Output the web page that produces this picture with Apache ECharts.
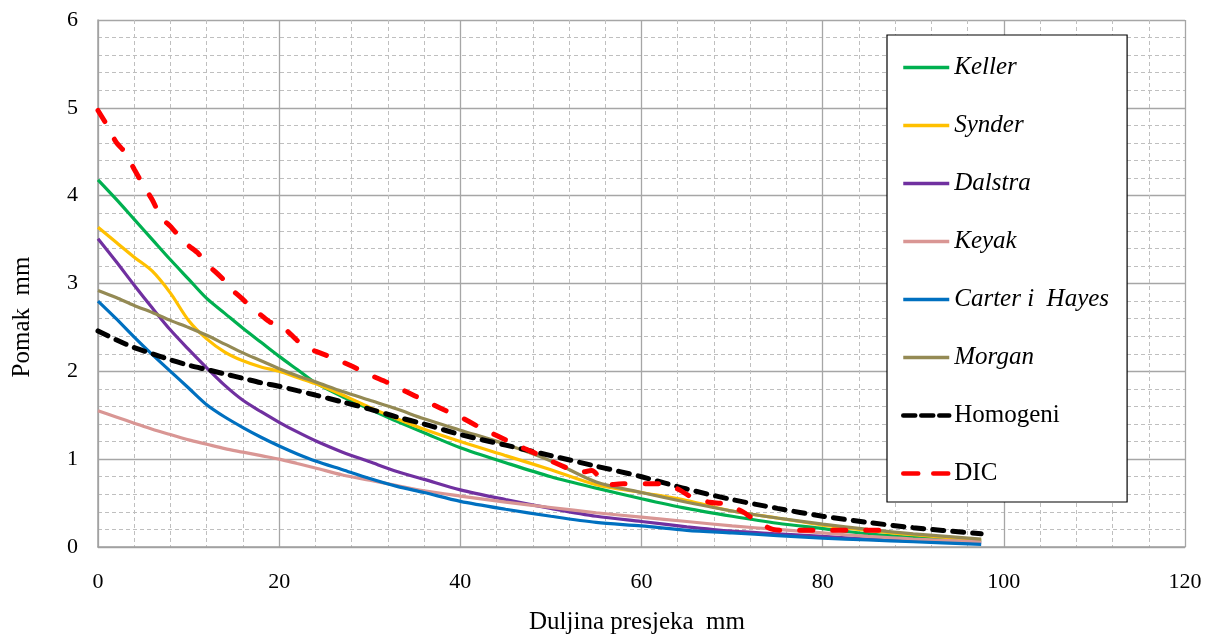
<!DOCTYPE html>
<html>
<head>
<meta charset="utf-8">
<script src="https://cdn.jsdelivr.net/npm/echarts@6/dist/echarts.min.js"></script>
<style>
html,body{margin:0;padding:0;background:#fff;}
#c{width:1207px;height:637px;}
</style>
</head>
<body>
<div id="c"></div>
<script>
const xTicks = [0, 20, 40, 60, 80, 100, 120];
const yTicks = [0, 1, 2, 3, 4, 5, 6];

const xModel = [0,2,4,6,8,10,12,14,16,18,20,22,24,27,30,33,36,40,45,50,55,60,65,70,75,80,85,90,97.5];
const keller   = [4.18,3.96,3.73,3.50,3.27,3.05,2.83,2.66,2.49,2.33,2.17,2.02,1.87,1.71,1.57,1.43,1.30,1.13,0.96,0.80,0.67,0.55,0.44,0.35,0.27,0.21,0.15,0.11,0.07];
const synder   = [3.64,3.47,3.30,3.14,2.89,2.58,2.37,2.22,2.12,2.05,2.00,1.93,1.86,1.73,1.59,1.46,1.34,1.20,1.04,0.88,0.71,0.62,0.53,0.41,0.33,0.25,0.19,0.14,0.08];
const dalstra  = [3.51,3.25,2.98,2.72,2.47,2.25,2.04,1.84,1.67,1.54,1.42,1.31,1.21,1.08,0.97,0.86,0.77,0.65,0.54,0.44,0.35,0.29,0.23,0.18,0.15,0.12,0.09,0.07,0.05];
const keyak    = [1.55,1.48,1.41,1.34,1.28,1.22,1.17,1.12,1.08,1.04,1.00,0.95,0.90,0.82,0.76,0.70,0.64,0.58,0.51,0.45,0.39,0.34,0.29,0.24,0.20,0.16,0.12,0.09,0.06];
const carter   = [2.80,2.60,2.39,2.19,2.00,1.81,1.62,1.48,1.36,1.25,1.15,1.06,0.98,0.88,0.78,0.69,0.62,0.52,0.43,0.35,0.28,0.24,0.19,0.16,0.13,0.10,0.08,0.06,0.03];
const morgan   = [2.92,2.84,2.75,2.67,2.58,2.50,2.41,2.31,2.21,2.12,2.03,1.95,1.88,1.77,1.67,1.57,1.46,1.33,1.17,0.98,0.74,0.62,0.51,0.41,0.33,0.26,0.20,0.15,0.09];
const homogeni = [2.46,2.36,2.27,2.20,2.13,2.07,2.02,1.97,1.92,1.87,1.83,1.78,1.73,1.65,1.57,1.48,1.40,1.28,1.16,1.04,0.92,0.80,0.66,0.54,0.44,0.35,0.28,0.22,0.15];

const xDIC = [0,1,2,3,4,5,6,7,8,9,10,11,12,13,14,15,16,17,18,19,20,21,22,23,24,26,28,30,32,34,36,38,40,42,44,46,48,50,52,53.2,54.5,55.5,56.5,58,62,64,65.5,67.5,69.2,71.2,72.6,74.5,76,80,84,87];
const yDIC = [4.97,4.80,4.61,4.49,4.30,4.12,3.95,3.75,3.65,3.53,3.43,3.35,3.22,3.13,3.03,2.91,2.82,2.72,2.64,2.56,2.54,2.45,2.35,2.27,2.23,2.15,2.06,1.96,1.87,1.77,1.67,1.57,1.48,1.37,1.27,1.17,1.08,0.98,0.89,0.85,0.87,0.78,0.71,0.72,0.72,0.66,0.57,0.51,0.49,0.40,0.30,0.20,0.19,0.19,0.19,0.19];

const names = ['Keller','Synder','Dalstra','Keyak','Carter i  Hayes','Morgan','Homogeni','DIC'];
const italicNames = ['Keller','Synder','Dalstra','Keyak','Carter i  Hayes','Morgan'];

const FONT = '"Liberation Serif", "Times New Roman", serif';

function pairs(xs, ys){ return xs.map((x,i)=>[x, ys[i]]); }

function solid(name, ys, color){
  return {
    name, type:'line', data: pairs(xModel, ys), symbol:'none', showSymbol:false,
    smooth:0.3,
    lineStyle:{color, width:3.2}, itemStyle:{color}
  };
}

const series = [
  solid('Keller', keller, '#00B050'),
  solid('Synder', synder, '#FFC000'),
  solid('Dalstra', dalstra, '#7030A0'),
  solid('Keyak', keyak, '#D99694'),
  solid('Carter i  Hayes', carter, '#0070C0'),
  solid('Morgan', morgan, '#948A54'),
  {
    name:'Homogeni', type:'line', data: pairs(xModel, homogeni), symbol:'none', showSymbol:false,
    smooth:0.3,
    lineStyle:{color:'#000', width:5, type:[11,9], cap:'round'}, itemStyle:{color:'#000'}
  },
  {
    name:'DIC', type:'line', data: pairs(xDIC, yDIC), symbol:'none', showSymbol:false,
    smooth:0.25,
    lineStyle:{color:'#FF0000', width:5, type:[13,20], cap:'round'}, itemStyle:{color:'#FF0000'}
  }
];

const legendData = names.map(n => {
  const item = {name:n};
  if (italicNames.includes(n)) {
    item.textStyle = {fontStyle:'italic'};
    item.lineStyle = {width:3.5};
  } else if (n === 'Homogeni') {
    item.lineStyle = {width:4.5, type:[12,6], cap:'round'};
  } else {
    item.lineStyle = {width:4.5, type:[15,15], cap:'round'};
  }
  return item;
});

const chart = echarts.init(document.getElementById('c'), null, {renderer:'canvas'});
chart.setOption({
  animation:false,
  backgroundColor:'#fff',
  grid:{left:98, right:22, top:20, bottom:90, containLabel:false},
  xAxis:{
    type:'value', min:xTicks[0], max:xTicks[xTicks.length-1], interval:20,
    axisLine:{show:true, lineStyle:{color:'#a0a0a0', width:1.5}},
    axisTick:{show:false},
    axisLabel:{color:'#000', fontFamily:FONT, fontSize:22, margin:24},
    splitLine:{show:true, lineStyle:{color:'#a6a6a6', width:1.3}},
    minorTick:{show:false, splitNumber:5},
    minorSplitLine:{show:true, lineStyle:{color:'#bfbfbf', width:1, type:[4,3]}}
  },
  yAxis:{
    type:'value', min:yTicks[0], max:yTicks[yTicks.length-1], interval:1,
    axisLine:{show:true, lineStyle:{color:'#a0a0a0', width:1.5}},
    axisTick:{show:false},
    axisLabel:{color:'#000', fontFamily:FONT, fontSize:22, margin:20},
    splitLine:{show:true, lineStyle:{color:'#a6a6a6', width:1.3}},
    minorTick:{show:false, splitNumber:5},
    minorSplitLine:{show:true, lineStyle:{color:'#bfbfbf', width:1, type:[4,3]}}
  },
  legend:{
    orient:'vertical', left:887, top:35,
    padding:[20,18,16,14],
    itemWidth:46, itemHeight:14, itemGap:33,
    backgroundColor:'#fff', borderColor:'#000', borderWidth:1.2,
    itemStyle:{opacity:0},
    textStyle:{color:'#000', fontFamily:FONT, fontSize:25, lineHeight:25},
    data: legendData
  },
  graphic:[
    {type:'text', x:22, y:317, rotation:Math.PI/2,
     style:{text:'Pomak  mm', fill:'#000', font:'25px ' + FONT, textAlign:'center', textVerticalAlign:'middle'}},
    {type:'text', x:637, y:622,
     style:{text:'Duljina presjeka  mm', fill:'#000', font:'25px ' + FONT, textAlign:'center', textVerticalAlign:'middle'}}
  ],
  series
});
</script>
</body>
</html>
